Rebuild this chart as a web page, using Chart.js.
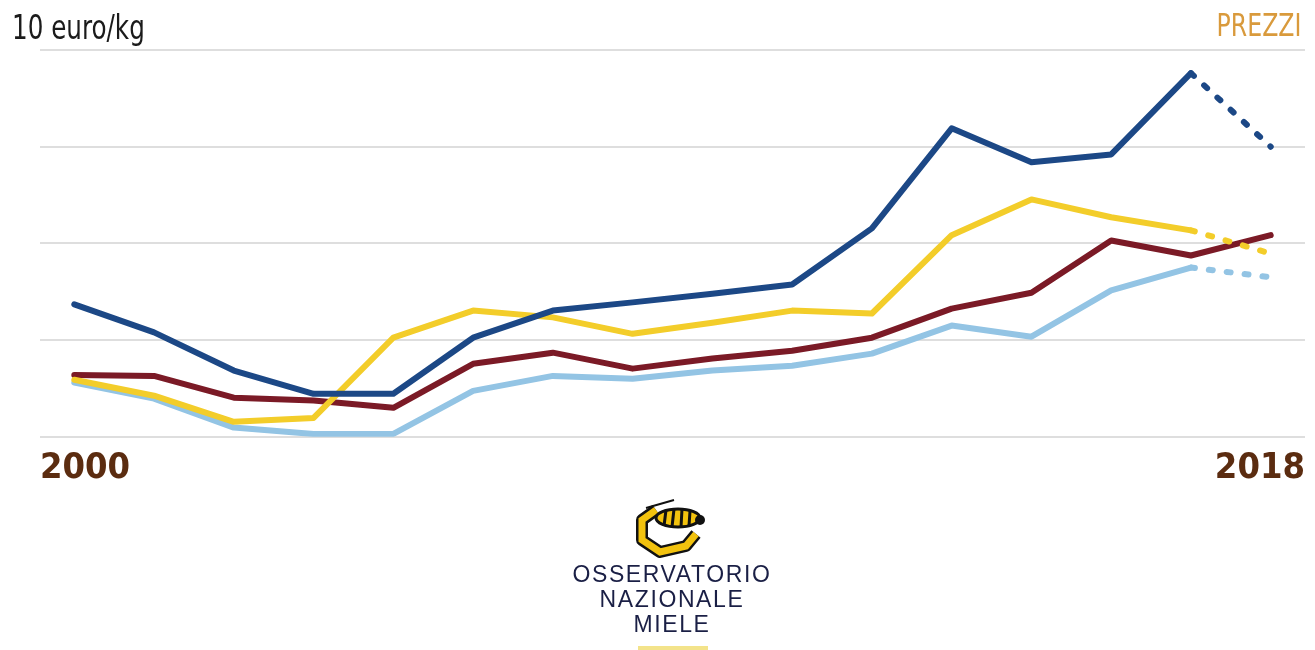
<!DOCTYPE html>
<html>
<head>
<meta charset="utf-8">
<title>Prezzi miele</title>
<script src="https://cdn.jsdelivr.net/npm/chart.js"></script>
<style>
  html, body { margin: 0; padding: 0; background: #fff; }
  body { width: 1315px; height: 650px; position: relative; overflow: hidden; }
  #wrap { position: absolute; left: 0; top: 0; width: 1315px; height: 506px; }
  .unit { position: absolute; left: 12px; top: 8px; font: 33px 'DejaVu Sans Condensed', 'Liberation Sans Narrow', sans-serif; color: #1b1b1b; transform: scaleX(0.83); transform-origin: left top; white-space: nowrap; }
  .tag { position: absolute; right: 14px; top: 6px; font: 32px 'DejaVu Sans Condensed', 'Liberation Sans Narrow', sans-serif; color: #d99a3c; transform: scaleX(0.82); transform-origin: right top; }
  .logo { position: absolute; left: 540px; top: 496px; width: 264px; text-align: center; }
  .logo div { font: 23px 'Liberation Sans', Arial, sans-serif; color: #1a1f45; line-height: 25px; letter-spacing: 1.6px; }
  .bar { position: absolute; left: 638px; top: 646px; width: 70px; height: 4px; background: #f3e38a; }
</style>
</head>
<body>
<div id="wrap"><canvas id="chart"></canvas></div>
<div class="unit">10 euro/kg</div>
<div class="tag">PREZZI</div>
<div class="logo">
  <svg width="78" height="62" viewBox="0 0 76 62">
    <path d="M22 14 L8 24 L8 44 L26 56 L52 50 L62 38" fill="none" stroke="#111" stroke-width="12" stroke-linejoin="round"/>
    <path d="M22 14 L8 24 L8 44 L26 56 L52 50 L62 38" fill="none" stroke="#f2c20e" stroke-width="7" stroke-linejoin="miter"/>
    <path d="M12 12 L40 4" stroke="#111" stroke-width="2"/>
    <ellipse cx="44" cy="22" rx="22" ry="9" fill="#f2c20e" stroke="#111" stroke-width="3"/>
    <path d="M32 14 L30 30 M40 13 L38 31 M48 13 L47 31 M56 15 L55 30" stroke="#111" stroke-width="3"/>
    <circle cx="66" cy="24" r="5" fill="#111"/>
  </svg>
  <div>OSSERVATORIO</div>
  <div>NAZIONALE</div>
  <div>MIELE</div>
</div>
<div class="bar"></div>

<script>
// 16 rilevazioni, dal 2000 al 2018
const years = ['2000', '', '', '', '', '', '', '', '', '', '', '', '', '', '', '2018'];
const xTickLabels = ['2000', '2018'];

// prezzi in euro/kg
const darkBlue  = [4.74, 4.16, 3.37, 2.89, 2.89, 4.05, 4.61, 4.78, 4.96, 5.15, 6.31, 8.38, 7.68, 7.84, 9.52, 8.00];
const yellow    = [3.18, 2.85, 2.31, 2.39, 4.05, 4.61, 4.47, 4.13, 4.36, 4.61, 4.55, 6.17, 6.91, 6.54, 6.27, 5.79];
const darkRed   = [3.28, 3.26, 2.81, 2.75, 2.60, 3.51, 3.74, 3.41, 3.62, 3.78, 4.05, 4.65, 4.98, 6.06, 5.75, 6.17];
const lightBlue = [3.12, 2.79, 2.19, 2.06, 2.06, 2.95, 3.26, 3.20, 3.37, 3.47, 3.72, 4.30, 4.07, 5.03, 5.50, 5.30];

// ultimo tratto tratteggiato (stima)
const dashedLast = [true, true, false, true];

const yMin = 2, yMax = 10, yStep = 2;

function series(values, color, dashed) {
    return {
        data: values.map((v, i) => ({ x: i, y: v })),
        borderColor: color,
        borderWidth: 6,
        pointRadius: 0,
        tension: 0,
        borderCapStyle: 'round',
        borderJoinStyle: 'round',
        segment: {
            borderDash: ctx => (dashed && ctx.p1DataIndex === values.length - 1) ? [4, 14] : undefined
        }
    };
}

new Chart(document.getElementById('chart'), {
    type: 'line',
    data: {
        datasets: [
            series(darkBlue, '#1c4886', dashedLast[0]),
            series(yellow, '#f3cd2a', dashedLast[1]),
            series(darkRed, '#7b1a26', dashedLast[2]),
            series(lightBlue, '#93c4e4', dashedLast[3])
        ]
    },
    options: {
        responsive: true,
        maintainAspectRatio: false,
        animation: false,
        layout: { padding: { left: 40, right: 9, top: 50, bottom: 6 } },
        plugins: { legend: { display: false }, tooltip: { enabled: false } },
        scales: {
            x: {
                type: 'linear',
                min: -0.43,
                max: years.length - 1 + 0.43,
                grid: { display: false, drawTicks: false },
                border: { display: false },
                afterBuildTicks: scale => {
                    scale.ticks = [{ value: scale.min }, { value: scale.max }];
                },
                ticks: {
                    align: 'inner',
                    padding: 10,
                    maxRotation: 0,
                    color: '#5b2c10',
                    font: { family: "'DejaVu Sans Condensed', 'Liberation Sans Narrow', sans-serif", size: 36, weight: 'bold' },
                    callback: (v, i) => xTickLabels[i]
                }
            },
            y: {
                min: yMin,
                max: yMax,
                ticks: { display: false, stepSize: yStep },
                grid: { color: '#dedede', lineWidth: 2, drawTicks: false },
                border: { display: false }
            }
        }
    }
});
</script>
</body>
</html>
